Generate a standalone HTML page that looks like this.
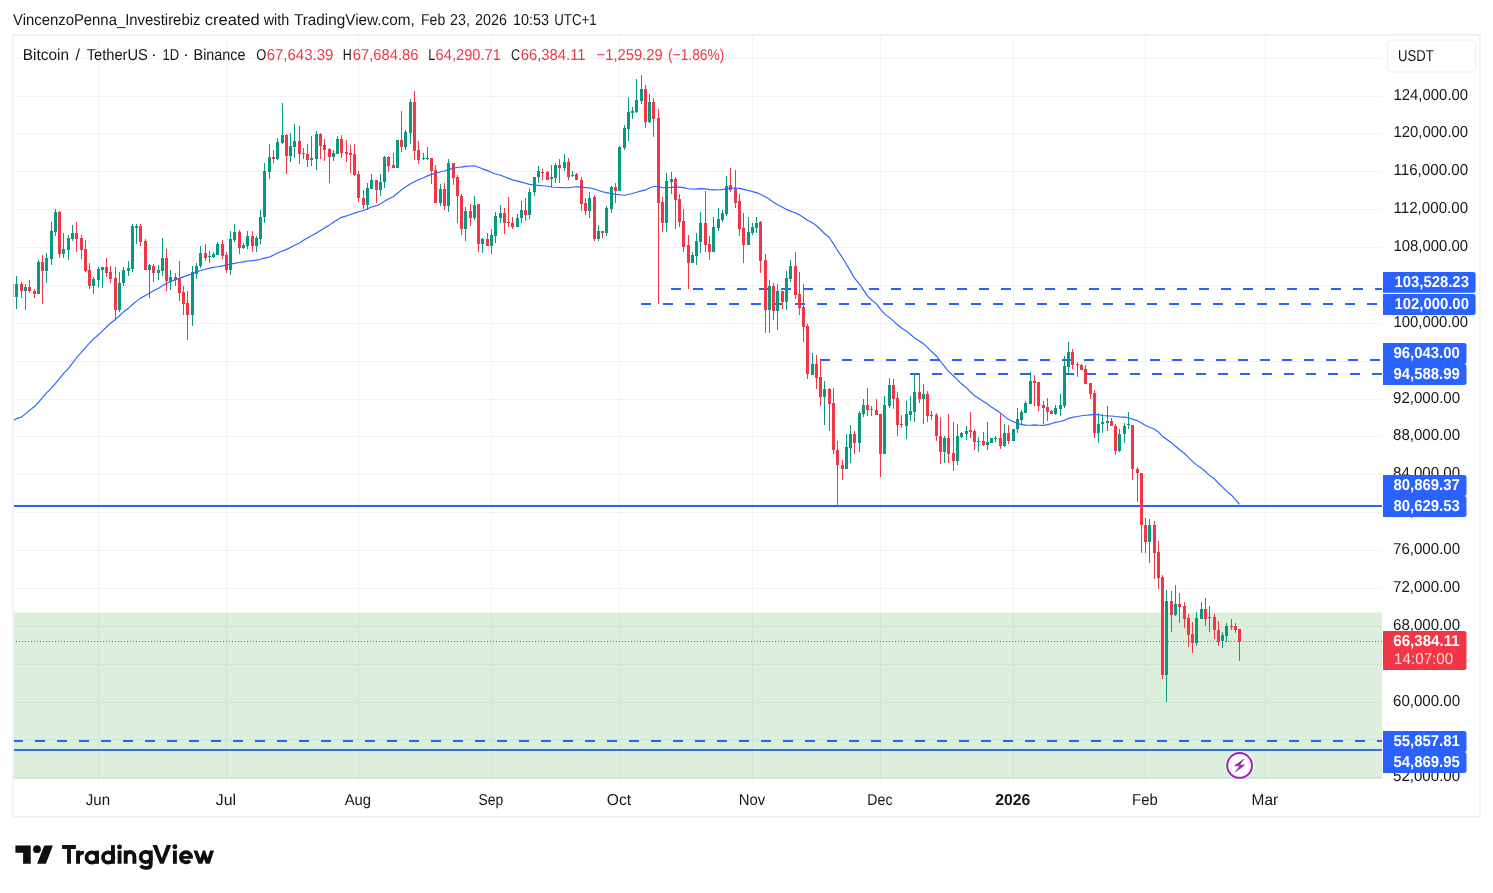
<!DOCTYPE html>
<html><head><meta charset="utf-8"><title>BTCUSDT chart</title>
<style>html,body{margin:0;padding:0;background:#fff}body{width:1493px;height:893px;overflow:hidden;position:relative;font-family:"Liberation Sans",sans-serif}</style>
</head><body>
<svg width="1493" height="893" viewBox="0 0 1493 893" style="position:absolute;left:0;top:0;will-change:transform;text-rendering:geometricPrecision;font-family:'Liberation Sans',sans-serif">
<rect width="1493" height="893" fill="#fff"/>
<rect x="13" y="35" width="1467" height="782" fill="none" stroke="#f2f2f2" stroke-width="2"/>
<g shape-rendering="crispEdges" fill="#f2f2f3">
<rect x="14" y="96" width="1368" height="1"/>
<rect x="14" y="133" width="1368" height="1"/>
<rect x="14" y="171" width="1368" height="1"/>
<rect x="14" y="209" width="1368" height="1"/>
<rect x="14" y="247" width="1368" height="1"/>
<rect x="14" y="285" width="1368" height="1"/>
<rect x="14" y="323" width="1368" height="1"/>
<rect x="14" y="361" width="1368" height="1"/>
<rect x="14" y="399" width="1368" height="1"/>
<rect x="14" y="436" width="1368" height="1"/>
<rect x="14" y="474" width="1368" height="1"/>
<rect x="14" y="512" width="1368" height="1"/>
<rect x="14" y="550" width="1368" height="1"/>
<rect x="14" y="588" width="1368" height="1"/>
<rect x="14" y="626" width="1368" height="1"/>
<rect x="14" y="664" width="1368" height="1"/>
<rect x="14" y="702" width="1368" height="1"/>
<rect x="14" y="739" width="1368" height="1"/>
<rect x="14" y="777" width="1368" height="1"/>
<rect x="14" y="58" width="1368" height="1"/>
<rect x="98" y="36" width="1" height="746"/>
<rect x="226" y="36" width="1" height="746"/>
<rect x="358" y="36" width="1" height="746"/>
<rect x="491" y="36" width="1" height="746"/>
<rect x="619" y="36" width="1" height="746"/>
<rect x="752" y="36" width="1" height="746"/>
<rect x="880" y="36" width="1" height="746"/>
<rect x="1013" y="36" width="1" height="746"/>
<rect x="1145" y="36" width="1" height="746"/>
<rect x="1265" y="36" width="1" height="746"/>
</g>
<rect x="14" y="749" width="1368" height="2" fill="#2962ff" shape-rendering="crispEdges"/>
<rect x="14" y="612.5" width="1368" height="166.5" fill="rgb(76,175,80)" fill-opacity="0.2"/>
<line x1="671" y1="289" x2="1382" y2="289" stroke="#2962ff" stroke-width="2" stroke-dasharray="10 12"/>
<line x1="641" y1="304" x2="1382" y2="304" stroke="#2962ff" stroke-width="2" stroke-dasharray="10 12"/>
<line x1="820" y1="360" x2="1382" y2="360" stroke="#2962ff" stroke-width="2" stroke-dasharray="10 12"/>
<line x1="910" y1="374" x2="1382" y2="374" stroke="#2962ff" stroke-width="2" stroke-dasharray="10 12"/>
<rect x="14" y="505" width="1368" height="2" fill="#2962ff" shape-rendering="crispEdges"/>
<line x1="14" y1="741" x2="1382" y2="741" stroke="#2962ff" stroke-width="2" stroke-dasharray="10 12" stroke-dashoffset="1"/>
<g shape-rendering="crispEdges">
<rect x="12" y="284" width="1" height="13" fill="#f23645"/><rect x="11" y="284" width="3" height="13" fill="#f23645"/>
<rect x="16" y="276" width="1" height="33" fill="#089981"/><rect x="15" y="284" width="3" height="13" fill="#089981"/>
<rect x="21" y="282" width="1" height="16" fill="#f23645"/><rect x="20" y="284" width="3" height="7" fill="#f23645"/>
<rect x="25" y="284" width="1" height="26" fill="#089981"/><rect x="24" y="287" width="3" height="4" fill="#089981"/>
<rect x="29" y="280" width="1" height="13" fill="#f23645"/><rect x="28" y="287" width="3" height="4" fill="#f23645"/>
<rect x="34" y="289" width="1" height="9" fill="#f23645"/><rect x="33" y="291" width="3" height="3" fill="#f23645"/>
<rect x="38" y="260" width="1" height="34" fill="#089981"/><rect x="37" y="262" width="3" height="32" fill="#089981"/>
<rect x="42" y="255" width="1" height="49" fill="#f23645"/><rect x="41" y="262" width="3" height="9" fill="#f23645"/>
<rect x="46" y="253" width="1" height="30" fill="#089981"/><rect x="45" y="258" width="3" height="13" fill="#089981"/>
<rect x="51" y="222" width="1" height="43" fill="#089981"/><rect x="50" y="231" width="3" height="28" fill="#089981"/>
<rect x="55" y="209" width="1" height="27" fill="#089981"/><rect x="54" y="212" width="3" height="20" fill="#089981"/>
<rect x="59" y="211" width="1" height="47" fill="#f23645"/><rect x="58" y="212" width="3" height="42" fill="#f23645"/>
<rect x="63" y="233" width="1" height="25" fill="#089981"/><rect x="62" y="249" width="3" height="5" fill="#089981"/>
<rect x="68" y="235" width="1" height="25" fill="#089981"/><rect x="67" y="238" width="3" height="12" fill="#089981"/>
<rect x="72" y="225" width="1" height="16" fill="#089981"/><rect x="71" y="233" width="3" height="6" fill="#089981"/>
<rect x="76" y="222" width="1" height="30" fill="#f23645"/><rect x="75" y="233" width="3" height="6" fill="#f23645"/>
<rect x="81" y="235" width="1" height="24" fill="#f23645"/><rect x="80" y="238" width="3" height="12" fill="#f23645"/>
<rect x="85" y="240" width="1" height="32" fill="#f23645"/><rect x="84" y="249" width="3" height="22" fill="#f23645"/>
<rect x="89" y="263" width="1" height="26" fill="#f23645"/><rect x="88" y="270" width="3" height="16" fill="#f23645"/>
<rect x="93" y="277" width="1" height="17" fill="#089981"/><rect x="92" y="279" width="3" height="7" fill="#089981"/>
<rect x="98" y="267" width="1" height="20" fill="#089981"/><rect x="97" y="269" width="3" height="11" fill="#089981"/>
<rect x="102" y="267" width="1" height="21" fill="#089981"/><rect x="101" y="267" width="3" height="3" fill="#089981"/>
<rect x="106" y="258" width="1" height="19" fill="#f23645"/><rect x="105" y="267" width="3" height="6" fill="#f23645"/>
<rect x="110" y="266" width="1" height="17" fill="#f23645"/><rect x="109" y="272" width="3" height="7" fill="#f23645"/>
<rect x="115" y="267" width="1" height="52" fill="#f23645"/><rect x="114" y="278" width="3" height="32" fill="#f23645"/>
<rect x="119" y="272" width="1" height="40" fill="#089981"/><rect x="118" y="283" width="3" height="27" fill="#089981"/>
<rect x="123" y="267" width="1" height="19" fill="#089981"/><rect x="122" y="270" width="3" height="13" fill="#089981"/>
<rect x="128" y="261" width="1" height="15" fill="#089981"/><rect x="127" y="268" width="3" height="3" fill="#089981"/>
<rect x="132" y="224" width="1" height="48" fill="#089981"/><rect x="131" y="226" width="3" height="43" fill="#089981"/>
<rect x="136" y="224" width="1" height="20" fill="#089981"/><rect x="135" y="226" width="3" height="2" fill="#089981"/>
<rect x="140" y="224" width="1" height="22" fill="#f23645"/><rect x="139" y="226" width="3" height="16" fill="#f23645"/>
<rect x="145" y="239" width="1" height="31" fill="#f23645"/><rect x="144" y="241" width="3" height="29" fill="#f23645"/>
<rect x="149" y="264" width="1" height="34" fill="#089981"/><rect x="148" y="265" width="3" height="5" fill="#089981"/>
<rect x="153" y="264" width="1" height="18" fill="#f23645"/><rect x="152" y="266" width="3" height="7" fill="#f23645"/>
<rect x="158" y="265" width="1" height="15" fill="#089981"/><rect x="157" y="270" width="3" height="3" fill="#089981"/>
<rect x="162" y="238" width="1" height="38" fill="#089981"/><rect x="161" y="258" width="3" height="13" fill="#089981"/>
<rect x="166" y="249" width="1" height="42" fill="#f23645"/><rect x="165" y="258" width="3" height="23" fill="#f23645"/>
<rect x="170" y="270" width="1" height="20" fill="#089981"/><rect x="169" y="277" width="3" height="4" fill="#089981"/>
<rect x="175" y="273" width="1" height="13" fill="#f23645"/><rect x="174" y="277" width="3" height="3" fill="#f23645"/>
<rect x="179" y="261" width="1" height="40" fill="#f23645"/><rect x="178" y="279" width="3" height="14" fill="#f23645"/>
<rect x="183" y="286" width="1" height="29" fill="#f23645"/><rect x="182" y="292" width="3" height="12" fill="#f23645"/>
<rect x="187" y="291" width="1" height="49" fill="#f23645"/><rect x="186" y="303" width="3" height="12" fill="#f23645"/>
<rect x="192" y="266" width="1" height="60" fill="#089981"/><rect x="191" y="272" width="3" height="43" fill="#089981"/>
<rect x="196" y="263" width="1" height="16" fill="#089981"/><rect x="195" y="266" width="3" height="8" fill="#089981"/>
<rect x="200" y="246" width="1" height="22" fill="#089981"/><rect x="199" y="253" width="3" height="13" fill="#089981"/>
<rect x="205" y="244" width="1" height="17" fill="#f23645"/><rect x="204" y="253" width="3" height="5" fill="#f23645"/>
<rect x="209" y="251" width="1" height="12" fill="#089981"/><rect x="208" y="256" width="3" height="1" fill="#089981"/>
<rect x="213" y="252" width="1" height="6" fill="#089981"/><rect x="212" y="254" width="3" height="3" fill="#089981"/>
<rect x="217" y="242" width="1" height="13" fill="#089981"/><rect x="216" y="244" width="3" height="11" fill="#089981"/>
<rect x="222" y="240" width="1" height="19" fill="#f23645"/><rect x="221" y="244" width="3" height="12" fill="#f23645"/>
<rect x="226" y="252" width="1" height="21" fill="#f23645"/><rect x="225" y="255" width="3" height="15" fill="#f23645"/>
<rect x="230" y="231" width="1" height="44" fill="#089981"/><rect x="229" y="239" width="3" height="31" fill="#089981"/>
<rect x="234" y="224" width="1" height="18" fill="#089981"/><rect x="233" y="232" width="3" height="8" fill="#089981"/>
<rect x="239" y="230" width="1" height="24" fill="#f23645"/><rect x="238" y="232" width="3" height="16" fill="#f23645"/>
<rect x="243" y="243" width="1" height="6" fill="#089981"/><rect x="242" y="245" width="3" height="3" fill="#089981"/>
<rect x="247" y="231" width="1" height="18" fill="#089981"/><rect x="246" y="236" width="3" height="10" fill="#089981"/>
<rect x="252" y="231" width="1" height="21" fill="#f23645"/><rect x="251" y="236" width="3" height="10" fill="#f23645"/>
<rect x="256" y="236" width="1" height="16" fill="#089981"/><rect x="255" y="238" width="3" height="8" fill="#089981"/>
<rect x="260" y="210" width="1" height="34" fill="#089981"/><rect x="259" y="217" width="3" height="22" fill="#089981"/>
<rect x="264" y="163" width="1" height="60" fill="#089981"/><rect x="263" y="171" width="3" height="46" fill="#089981"/>
<rect x="269" y="144" width="1" height="35" fill="#089981"/><rect x="268" y="157" width="3" height="15" fill="#089981"/>
<rect x="273" y="150" width="1" height="13" fill="#f23645"/><rect x="272" y="157" width="3" height="2" fill="#f23645"/>
<rect x="277" y="138" width="1" height="22" fill="#089981"/><rect x="276" y="142" width="3" height="17" fill="#089981"/>
<rect x="282" y="103" width="1" height="41" fill="#089981"/><rect x="281" y="135" width="3" height="8" fill="#089981"/>
<rect x="286" y="134" width="1" height="40" fill="#f23645"/><rect x="285" y="135" width="3" height="21" fill="#f23645"/>
<rect x="290" y="133" width="1" height="29" fill="#089981"/><rect x="289" y="146" width="3" height="10" fill="#089981"/>
<rect x="294" y="124" width="1" height="34" fill="#089981"/><rect x="293" y="141" width="3" height="6" fill="#089981"/>
<rect x="299" y="126" width="1" height="38" fill="#f23645"/><rect x="298" y="141" width="3" height="13" fill="#f23645"/>
<rect x="303" y="148" width="1" height="11" fill="#f23645"/><rect x="302" y="153" width="3" height="1" fill="#f23645"/>
<rect x="307" y="144" width="1" height="23" fill="#f23645"/><rect x="306" y="154" width="3" height="6" fill="#f23645"/>
<rect x="311" y="136" width="1" height="30" fill="#089981"/><rect x="310" y="158" width="3" height="2" fill="#089981"/>
<rect x="316" y="131" width="1" height="39" fill="#089981"/><rect x="315" y="134" width="3" height="25" fill="#089981"/>
<rect x="320" y="133" width="1" height="26" fill="#f23645"/><rect x="319" y="134" width="3" height="12" fill="#f23645"/>
<rect x="324" y="139" width="1" height="22" fill="#f23645"/><rect x="323" y="145" width="3" height="5" fill="#f23645"/>
<rect x="329" y="148" width="1" height="35" fill="#f23645"/><rect x="328" y="149" width="3" height="8" fill="#f23645"/>
<rect x="333" y="150" width="1" height="11" fill="#089981"/><rect x="332" y="153" width="3" height="4" fill="#089981"/>
<rect x="337" y="136" width="1" height="18" fill="#089981"/><rect x="336" y="139" width="3" height="15" fill="#089981"/>
<rect x="341" y="135" width="1" height="23" fill="#f23645"/><rect x="340" y="139" width="3" height="14" fill="#f23645"/>
<rect x="346" y="140" width="1" height="22" fill="#f23645"/><rect x="345" y="152" width="3" height="2" fill="#f23645"/>
<rect x="350" y="145" width="1" height="28" fill="#f23645"/><rect x="349" y="153" width="3" height="2" fill="#f23645"/>
<rect x="354" y="144" width="1" height="32" fill="#f23645"/><rect x="353" y="154" width="3" height="21" fill="#f23645"/>
<rect x="358" y="171" width="1" height="31" fill="#f23645"/><rect x="357" y="174" width="3" height="24" fill="#f23645"/>
<rect x="363" y="190" width="1" height="19" fill="#f23645"/><rect x="362" y="198" width="3" height="7" fill="#f23645"/>
<rect x="367" y="183" width="1" height="27" fill="#089981"/><rect x="366" y="188" width="3" height="17" fill="#089981"/>
<rect x="371" y="174" width="1" height="15" fill="#089981"/><rect x="370" y="180" width="3" height="9" fill="#089981"/>
<rect x="376" y="180" width="1" height="23" fill="#f23645"/><rect x="375" y="180" width="3" height="10" fill="#f23645"/>
<rect x="380" y="174" width="1" height="22" fill="#089981"/><rect x="379" y="182" width="3" height="8" fill="#089981"/>
<rect x="384" y="156" width="1" height="32" fill="#089981"/><rect x="383" y="157" width="3" height="25" fill="#089981"/>
<rect x="388" y="156" width="1" height="16" fill="#f23645"/><rect x="387" y="157" width="3" height="9" fill="#f23645"/>
<rect x="393" y="153" width="1" height="15" fill="#f23645"/><rect x="392" y="165" width="3" height="3" fill="#f23645"/>
<rect x="397" y="140" width="1" height="28" fill="#089981"/><rect x="396" y="140" width="3" height="28" fill="#089981"/>
<rect x="401" y="111" width="1" height="41" fill="#f23645"/><rect x="400" y="140" width="3" height="7" fill="#f23645"/>
<rect x="405" y="130" width="1" height="20" fill="#089981"/><rect x="404" y="132" width="3" height="15" fill="#089981"/>
<rect x="410" y="99" width="1" height="45" fill="#089981"/><rect x="409" y="102" width="3" height="31" fill="#089981"/>
<rect x="414" y="91" width="1" height="69" fill="#f23645"/><rect x="413" y="102" width="3" height="49" fill="#f23645"/>
<rect x="418" y="141" width="1" height="23" fill="#f23645"/><rect x="417" y="150" width="3" height="10" fill="#f23645"/>
<rect x="423" y="153" width="1" height="7" fill="#089981"/><rect x="422" y="158" width="3" height="1" fill="#089981"/>
<rect x="427" y="147" width="1" height="13" fill="#089981"/><rect x="426" y="158" width="3" height="1" fill="#089981"/>
<rect x="431" y="158" width="1" height="26" fill="#f23645"/><rect x="430" y="158" width="3" height="13" fill="#f23645"/>
<rect x="435" y="165" width="1" height="38" fill="#f23645"/><rect x="434" y="170" width="3" height="33" fill="#f23645"/>
<rect x="440" y="184" width="1" height="22" fill="#089981"/><rect x="439" y="189" width="3" height="14" fill="#089981"/>
<rect x="444" y="183" width="1" height="27" fill="#f23645"/><rect x="443" y="189" width="3" height="17" fill="#f23645"/>
<rect x="448" y="159" width="1" height="53" fill="#089981"/><rect x="447" y="163" width="3" height="43" fill="#089981"/>
<rect x="453" y="163" width="1" height="22" fill="#f23645"/><rect x="452" y="163" width="3" height="15" fill="#f23645"/>
<rect x="457" y="175" width="1" height="48" fill="#f23645"/><rect x="456" y="177" width="3" height="19" fill="#f23645"/>
<rect x="461" y="194" width="1" height="41" fill="#f23645"/><rect x="460" y="196" width="3" height="33" fill="#f23645"/>
<rect x="465" y="207" width="1" height="34" fill="#089981"/><rect x="464" y="211" width="3" height="18" fill="#089981"/>
<rect x="470" y="204" width="1" height="22" fill="#f23645"/><rect x="469" y="211" width="3" height="7" fill="#f23645"/>
<rect x="474" y="196" width="1" height="24" fill="#089981"/><rect x="473" y="205" width="3" height="13" fill="#089981"/>
<rect x="478" y="204" width="1" height="48" fill="#f23645"/><rect x="477" y="204" width="3" height="40" fill="#f23645"/>
<rect x="482" y="238" width="1" height="15" fill="#089981"/><rect x="481" y="239" width="3" height="5" fill="#089981"/>
<rect x="487" y="233" width="1" height="13" fill="#f23645"/><rect x="486" y="239" width="3" height="7" fill="#f23645"/>
<rect x="491" y="229" width="1" height="25" fill="#089981"/><rect x="490" y="235" width="3" height="11" fill="#089981"/>
<rect x="495" y="212" width="1" height="31" fill="#089981"/><rect x="494" y="216" width="3" height="20" fill="#089981"/>
<rect x="500" y="205" width="1" height="18" fill="#089981"/><rect x="499" y="213" width="3" height="5" fill="#089981"/>
<rect x="504" y="208" width="1" height="26" fill="#f23645"/><rect x="503" y="213" width="3" height="10" fill="#f23645"/>
<rect x="508" y="197" width="1" height="30" fill="#f23645"/><rect x="507" y="222" width="3" height="1" fill="#f23645"/>
<rect x="512" y="217" width="1" height="12" fill="#f23645"/><rect x="511" y="223" width="3" height="4" fill="#f23645"/>
<rect x="517" y="214" width="1" height="13" fill="#089981"/><rect x="516" y="218" width="3" height="9" fill="#089981"/>
<rect x="521" y="201" width="1" height="22" fill="#089981"/><rect x="520" y="210" width="3" height="8" fill="#089981"/>
<rect x="525" y="198" width="1" height="23" fill="#f23645"/><rect x="524" y="210" width="3" height="5" fill="#f23645"/>
<rect x="529" y="188" width="1" height="31" fill="#089981"/><rect x="528" y="192" width="3" height="23" fill="#089981"/>
<rect x="534" y="177" width="1" height="19" fill="#089981"/><rect x="533" y="177" width="3" height="15" fill="#089981"/>
<rect x="538" y="166" width="1" height="17" fill="#089981"/><rect x="537" y="171" width="3" height="6" fill="#089981"/>
<rect x="542" y="169" width="1" height="11" fill="#f23645"/><rect x="541" y="172" width="3" height="1" fill="#f23645"/>
<rect x="547" y="171" width="1" height="9" fill="#f23645"/><rect x="546" y="172" width="3" height="8" fill="#f23645"/>
<rect x="551" y="165" width="1" height="22" fill="#089981"/><rect x="550" y="177" width="3" height="2" fill="#089981"/>
<rect x="555" y="163" width="1" height="20" fill="#089981"/><rect x="554" y="165" width="3" height="13" fill="#089981"/>
<rect x="559" y="159" width="1" height="24" fill="#f23645"/><rect x="558" y="165" width="3" height="3" fill="#f23645"/>
<rect x="564" y="154" width="1" height="17" fill="#089981"/><rect x="563" y="162" width="3" height="6" fill="#089981"/>
<rect x="568" y="158" width="1" height="22" fill="#f23645"/><rect x="567" y="162" width="3" height="15" fill="#f23645"/>
<rect x="572" y="171" width="1" height="6" fill="#089981"/><rect x="571" y="175" width="3" height="1" fill="#089981"/>
<rect x="576" y="173" width="1" height="7" fill="#f23645"/><rect x="575" y="174" width="3" height="6" fill="#f23645"/>
<rect x="581" y="177" width="1" height="34" fill="#f23645"/><rect x="580" y="180" width="3" height="24" fill="#f23645"/>
<rect x="585" y="198" width="1" height="17" fill="#f23645"/><rect x="584" y="203" width="3" height="8" fill="#f23645"/>
<rect x="589" y="192" width="1" height="26" fill="#089981"/><rect x="588" y="198" width="3" height="13" fill="#089981"/>
<rect x="594" y="195" width="1" height="46" fill="#f23645"/><rect x="593" y="197" width="3" height="42" fill="#f23645"/>
<rect x="598" y="225" width="1" height="16" fill="#089981"/><rect x="597" y="231" width="3" height="8" fill="#089981"/>
<rect x="602" y="231" width="1" height="7" fill="#f23645"/><rect x="601" y="231" width="3" height="2" fill="#f23645"/>
<rect x="606" y="206" width="1" height="30" fill="#089981"/><rect x="605" y="208" width="3" height="25" fill="#089981"/>
<rect x="611" y="186" width="1" height="27" fill="#089981"/><rect x="610" y="187" width="3" height="22" fill="#089981"/>
<rect x="615" y="183" width="1" height="20" fill="#f23645"/><rect x="614" y="187" width="3" height="4" fill="#f23645"/>
<rect x="619" y="146" width="1" height="45" fill="#089981"/><rect x="618" y="147" width="3" height="44" fill="#089981"/>
<rect x="624" y="125" width="1" height="25" fill="#089981"/><rect x="623" y="128" width="3" height="20" fill="#089981"/>
<rect x="628" y="97" width="1" height="44" fill="#089981"/><rect x="627" y="112" width="3" height="17" fill="#089981"/>
<rect x="632" y="107" width="1" height="12" fill="#089981"/><rect x="631" y="111" width="3" height="2" fill="#089981"/>
<rect x="636" y="79" width="1" height="34" fill="#089981"/><rect x="635" y="100" width="3" height="12" fill="#089981"/>
<rect x="641" y="75" width="1" height="29" fill="#089981"/><rect x="640" y="89" width="3" height="12" fill="#089981"/>
<rect x="645" y="85" width="1" height="43" fill="#f23645"/><rect x="644" y="89" width="3" height="33" fill="#f23645"/>
<rect x="649" y="94" width="1" height="29" fill="#089981"/><rect x="648" y="102" width="3" height="20" fill="#089981"/>
<rect x="653" y="98" width="1" height="39" fill="#f23645"/><rect x="652" y="102" width="3" height="17" fill="#f23645"/>
<rect x="658" y="109" width="1" height="195" fill="#f23645"/><rect x="657" y="118" width="3" height="85" fill="#f23645"/>
<rect x="662" y="197" width="1" height="35" fill="#f23645"/><rect x="661" y="202" width="3" height="21" fill="#f23645"/>
<rect x="666" y="173" width="1" height="59" fill="#089981"/><rect x="665" y="181" width="3" height="42" fill="#089981"/>
<rect x="671" y="172" width="1" height="22" fill="#089981"/><rect x="670" y="179" width="3" height="3" fill="#089981"/>
<rect x="675" y="177" width="1" height="52" fill="#f23645"/><rect x="674" y="179" width="3" height="21" fill="#f23645"/>
<rect x="679" y="194" width="1" height="33" fill="#f23645"/><rect x="678" y="199" width="3" height="23" fill="#f23645"/>
<rect x="683" y="209" width="1" height="43" fill="#f23645"/><rect x="682" y="221" width="3" height="26" fill="#f23645"/>
<rect x="688" y="235" width="1" height="54" fill="#f23645"/><rect x="687" y="245" width="3" height="18" fill="#f23645"/>
<rect x="692" y="252" width="1" height="11" fill="#089981"/><rect x="691" y="255" width="3" height="8" fill="#089981"/>
<rect x="696" y="233" width="1" height="32" fill="#089981"/><rect x="695" y="241" width="3" height="15" fill="#089981"/>
<rect x="700" y="212" width="1" height="41" fill="#089981"/><rect x="699" y="223" width="3" height="19" fill="#089981"/>
<rect x="705" y="191" width="1" height="61" fill="#f23645"/><rect x="704" y="223" width="3" height="22" fill="#f23645"/>
<rect x="709" y="236" width="1" height="24" fill="#f23645"/><rect x="708" y="244" width="3" height="8" fill="#f23645"/>
<rect x="713" y="217" width="1" height="35" fill="#089981"/><rect x="712" y="227" width="3" height="25" fill="#089981"/>
<rect x="718" y="208" width="1" height="23" fill="#089981"/><rect x="717" y="219" width="3" height="9" fill="#089981"/>
<rect x="722" y="210" width="1" height="12" fill="#089981"/><rect x="721" y="213" width="3" height="7" fill="#089981"/>
<rect x="726" y="176" width="1" height="40" fill="#089981"/><rect x="725" y="186" width="3" height="28" fill="#089981"/>
<rect x="730" y="168" width="1" height="24" fill="#f23645"/><rect x="729" y="185" width="3" height="5" fill="#f23645"/>
<rect x="735" y="170" width="1" height="38" fill="#f23645"/><rect x="734" y="189" width="3" height="14" fill="#f23645"/>
<rect x="739" y="194" width="1" height="42" fill="#f23645"/><rect x="738" y="201" width="3" height="28" fill="#f23645"/>
<rect x="743" y="213" width="1" height="50" fill="#f23645"/><rect x="742" y="228" width="3" height="17" fill="#f23645"/>
<rect x="748" y="217" width="1" height="28" fill="#089981"/><rect x="747" y="232" width="3" height="13" fill="#089981"/>
<rect x="752" y="223" width="1" height="12" fill="#089981"/><rect x="751" y="227" width="3" height="6" fill="#089981"/>
<rect x="756" y="217" width="1" height="16" fill="#089981"/><rect x="755" y="223" width="3" height="5" fill="#089981"/>
<rect x="760" y="221" width="1" height="52" fill="#f23645"/><rect x="759" y="222" width="3" height="39" fill="#f23645"/>
<rect x="765" y="254" width="1" height="79" fill="#f23645"/><rect x="764" y="260" width="3" height="50" fill="#f23645"/>
<rect x="769" y="280" width="1" height="53" fill="#089981"/><rect x="768" y="286" width="3" height="24" fill="#089981"/>
<rect x="773" y="283" width="1" height="37" fill="#f23645"/><rect x="772" y="286" width="3" height="25" fill="#f23645"/>
<rect x="777" y="284" width="1" height="46" fill="#089981"/><rect x="776" y="291" width="3" height="20" fill="#089981"/>
<rect x="782" y="291" width="1" height="18" fill="#f23645"/><rect x="781" y="291" width="3" height="11" fill="#f23645"/>
<rect x="786" y="271" width="1" height="39" fill="#089981"/><rect x="785" y="278" width="3" height="24" fill="#089981"/>
<rect x="790" y="260" width="1" height="22" fill="#089981"/><rect x="789" y="266" width="3" height="13" fill="#089981"/>
<rect x="795" y="252" width="1" height="47" fill="#f23645"/><rect x="794" y="266" width="3" height="29" fill="#f23645"/>
<rect x="799" y="272" width="1" height="43" fill="#f23645"/><rect x="798" y="294" width="3" height="14" fill="#f23645"/>
<rect x="803" y="284" width="1" height="58" fill="#f23645"/><rect x="802" y="307" width="3" height="20" fill="#f23645"/>
<rect x="807" y="324" width="1" height="55" fill="#f23645"/><rect x="806" y="326" width="3" height="48" fill="#f23645"/>
<rect x="812" y="353" width="1" height="22" fill="#089981"/><rect x="811" y="364" width="3" height="11" fill="#089981"/>
<rect x="816" y="355" width="1" height="34" fill="#f23645"/><rect x="815" y="364" width="3" height="14" fill="#f23645"/>
<rect x="820" y="360" width="1" height="46" fill="#f23645"/><rect x="819" y="377" width="3" height="20" fill="#f23645"/>
<rect x="824" y="381" width="1" height="44" fill="#089981"/><rect x="823" y="389" width="3" height="8" fill="#089981"/>
<rect x="829" y="388" width="1" height="43" fill="#f23645"/><rect x="828" y="389" width="3" height="15" fill="#f23645"/>
<rect x="833" y="388" width="1" height="66" fill="#f23645"/><rect x="832" y="403" width="3" height="47" fill="#f23645"/>
<rect x="837" y="441" width="1" height="65" fill="#f23645"/><rect x="836" y="450" width="3" height="15" fill="#f23645"/>
<rect x="842" y="460" width="1" height="20" fill="#f23645"/><rect x="841" y="465" width="3" height="4" fill="#f23645"/>
<rect x="846" y="434" width="1" height="35" fill="#089981"/><rect x="845" y="447" width="3" height="22" fill="#089981"/>
<rect x="850" y="425" width="1" height="38" fill="#089981"/><rect x="849" y="434" width="3" height="14" fill="#089981"/>
<rect x="854" y="431" width="1" height="23" fill="#f23645"/><rect x="853" y="434" width="3" height="9" fill="#f23645"/>
<rect x="859" y="411" width="1" height="41" fill="#089981"/><rect x="858" y="413" width="3" height="30" fill="#089981"/>
<rect x="863" y="399" width="1" height="18" fill="#089981"/><rect x="862" y="405" width="3" height="9" fill="#089981"/>
<rect x="867" y="388" width="1" height="28" fill="#f23645"/><rect x="866" y="405" width="3" height="5" fill="#f23645"/>
<rect x="871" y="406" width="1" height="10" fill="#f23645"/><rect x="870" y="409" width="3" height="1" fill="#f23645"/>
<rect x="876" y="399" width="1" height="16" fill="#f23645"/><rect x="875" y="410" width="3" height="5" fill="#f23645"/>
<rect x="880" y="414" width="1" height="63" fill="#f23645"/><rect x="879" y="414" width="3" height="40" fill="#f23645"/>
<rect x="884" y="396" width="1" height="58" fill="#089981"/><rect x="883" y="405" width="3" height="49" fill="#089981"/>
<rect x="889" y="378" width="1" height="30" fill="#089981"/><rect x="888" y="385" width="3" height="21" fill="#089981"/>
<rect x="893" y="379" width="1" height="30" fill="#f23645"/><rect x="892" y="385" width="3" height="14" fill="#f23645"/>
<rect x="897" y="392" width="1" height="44" fill="#f23645"/><rect x="896" y="398" width="3" height="27" fill="#f23645"/>
<rect x="901" y="415" width="1" height="13" fill="#f23645"/><rect x="900" y="424" width="3" height="1" fill="#f23645"/>
<rect x="906" y="401" width="1" height="38" fill="#089981"/><rect x="905" y="414" width="3" height="12" fill="#089981"/>
<rect x="910" y="396" width="1" height="25" fill="#089981"/><rect x="909" y="411" width="3" height="4" fill="#089981"/>
<rect x="914" y="374" width="1" height="48" fill="#089981"/><rect x="913" y="392" width="3" height="20" fill="#089981"/>
<rect x="919" y="375" width="1" height="28" fill="#f23645"/><rect x="918" y="392" width="3" height="7" fill="#f23645"/>
<rect x="923" y="384" width="1" height="40" fill="#089981"/><rect x="922" y="394" width="3" height="5" fill="#089981"/>
<rect x="927" y="391" width="1" height="31" fill="#f23645"/><rect x="926" y="394" width="3" height="22" fill="#f23645"/>
<rect x="931" y="411" width="1" height="9" fill="#f23645"/><rect x="930" y="415" width="3" height="1" fill="#f23645"/>
<rect x="936" y="413" width="1" height="28" fill="#f23645"/><rect x="935" y="415" width="3" height="21" fill="#f23645"/>
<rect x="940" y="417" width="1" height="47" fill="#f23645"/><rect x="939" y="436" width="3" height="16" fill="#f23645"/>
<rect x="944" y="436" width="1" height="27" fill="#089981"/><rect x="943" y="438" width="3" height="14" fill="#089981"/>
<rect x="948" y="414" width="1" height="49" fill="#f23645"/><rect x="947" y="438" width="3" height="16" fill="#f23645"/>
<rect x="953" y="422" width="1" height="49" fill="#f23645"/><rect x="952" y="453" width="3" height="8" fill="#f23645"/>
<rect x="957" y="424" width="1" height="41" fill="#089981"/><rect x="956" y="436" width="3" height="25" fill="#089981"/>
<rect x="961" y="432" width="1" height="6" fill="#089981"/><rect x="960" y="433" width="3" height="4" fill="#089981"/>
<rect x="966" y="426" width="1" height="14" fill="#089981"/><rect x="965" y="431" width="3" height="3" fill="#089981"/>
<rect x="970" y="412" width="1" height="26" fill="#f23645"/><rect x="969" y="430" width="3" height="2" fill="#f23645"/>
<rect x="974" y="429" width="1" height="21" fill="#f23645"/><rect x="973" y="431" width="3" height="11" fill="#f23645"/>
<rect x="978" y="437" width="1" height="15" fill="#089981"/><rect x="977" y="441" width="3" height="1" fill="#089981"/>
<rect x="983" y="432" width="1" height="14" fill="#f23645"/><rect x="982" y="441" width="3" height="4" fill="#f23645"/>
<rect x="987" y="422" width="1" height="28" fill="#089981"/><rect x="986" y="442" width="3" height="3" fill="#089981"/>
<rect x="991" y="438" width="1" height="5" fill="#089981"/><rect x="990" y="438" width="3" height="5" fill="#089981"/>
<rect x="995" y="436" width="1" height="6" fill="#089981"/><rect x="994" y="438" width="3" height="1" fill="#089981"/>
<rect x="1000" y="414" width="1" height="35" fill="#f23645"/><rect x="999" y="438" width="3" height="8" fill="#f23645"/>
<rect x="1004" y="424" width="1" height="23" fill="#089981"/><rect x="1003" y="433" width="3" height="13" fill="#089981"/>
<rect x="1008" y="425" width="1" height="19" fill="#f23645"/><rect x="1007" y="433" width="3" height="8" fill="#f23645"/>
<rect x="1013" y="429" width="1" height="12" fill="#089981"/><rect x="1012" y="429" width="3" height="12" fill="#089981"/>
<rect x="1017" y="408" width="1" height="25" fill="#089981"/><rect x="1016" y="419" width="3" height="10" fill="#089981"/>
<rect x="1021" y="410" width="1" height="14" fill="#089981"/><rect x="1020" y="412" width="3" height="8" fill="#089981"/>
<rect x="1025" y="401" width="1" height="12" fill="#089981"/><rect x="1024" y="403" width="3" height="10" fill="#089981"/>
<rect x="1030" y="372" width="1" height="32" fill="#089981"/><rect x="1029" y="381" width="3" height="23" fill="#089981"/>
<rect x="1034" y="375" width="1" height="31" fill="#f23645"/><rect x="1033" y="381" width="3" height="2" fill="#f23645"/>
<rect x="1038" y="382" width="1" height="29" fill="#f23645"/><rect x="1037" y="382" width="3" height="24" fill="#f23645"/>
<rect x="1043" y="401" width="1" height="23" fill="#f23645"/><rect x="1042" y="405" width="3" height="3" fill="#f23645"/>
<rect x="1047" y="398" width="1" height="23" fill="#f23645"/><rect x="1046" y="407" width="3" height="5" fill="#f23645"/>
<rect x="1051" y="410" width="1" height="4" fill="#f23645"/><rect x="1050" y="411" width="3" height="3" fill="#f23645"/>
<rect x="1055" y="405" width="1" height="10" fill="#089981"/><rect x="1054" y="408" width="3" height="6" fill="#089981"/>
<rect x="1060" y="394" width="1" height="22" fill="#089981"/><rect x="1059" y="405" width="3" height="4" fill="#089981"/>
<rect x="1064" y="356" width="1" height="52" fill="#089981"/><rect x="1063" y="366" width="3" height="40" fill="#089981"/>
<rect x="1068" y="342" width="1" height="32" fill="#089981"/><rect x="1067" y="352" width="3" height="15" fill="#089981"/>
<rect x="1072" y="349" width="1" height="20" fill="#f23645"/><rect x="1071" y="352" width="3" height="13" fill="#f23645"/>
<rect x="1077" y="362" width="1" height="15" fill="#f23645"/><rect x="1076" y="364" width="3" height="1" fill="#f23645"/>
<rect x="1081" y="364" width="1" height="6" fill="#f23645"/><rect x="1080" y="365" width="3" height="5" fill="#f23645"/>
<rect x="1085" y="365" width="1" height="19" fill="#f23645"/><rect x="1084" y="369" width="3" height="15" fill="#f23645"/>
<rect x="1090" y="383" width="1" height="16" fill="#f23645"/><rect x="1089" y="383" width="3" height="11" fill="#f23645"/>
<rect x="1094" y="390" width="1" height="48" fill="#f23645"/><rect x="1093" y="393" width="3" height="40" fill="#f23645"/>
<rect x="1098" y="413" width="1" height="30" fill="#089981"/><rect x="1097" y="424" width="3" height="9" fill="#089981"/>
<rect x="1102" y="414" width="1" height="19" fill="#089981"/><rect x="1101" y="422" width="3" height="2" fill="#089981"/>
<rect x="1107" y="406" width="1" height="25" fill="#089981"/><rect x="1106" y="421" width="3" height="2" fill="#089981"/>
<rect x="1111" y="418" width="1" height="8" fill="#f23645"/><rect x="1110" y="421" width="3" height="5" fill="#f23645"/>
<rect x="1115" y="424" width="1" height="31" fill="#f23645"/><rect x="1114" y="426" width="3" height="25" fill="#f23645"/>
<rect x="1119" y="429" width="1" height="23" fill="#089981"/><rect x="1118" y="434" width="3" height="17" fill="#089981"/>
<rect x="1124" y="423" width="1" height="20" fill="#089981"/><rect x="1123" y="426" width="3" height="8" fill="#089981"/>
<rect x="1128" y="412" width="1" height="17" fill="#089981"/><rect x="1127" y="424" width="3" height="1" fill="#089981"/>
<rect x="1132" y="425" width="1" height="55" fill="#f23645"/><rect x="1131" y="425" width="3" height="44" fill="#f23645"/>
<rect x="1137" y="467" width="1" height="35" fill="#f23645"/><rect x="1136" y="469" width="3" height="4" fill="#f23645"/>
<rect x="1141" y="473" width="1" height="80" fill="#f23645"/><rect x="1140" y="473" width="3" height="52" fill="#f23645"/>
<rect x="1145" y="518" width="1" height="35" fill="#f23645"/><rect x="1144" y="525" width="3" height="17" fill="#f23645"/>
<rect x="1149" y="519" width="1" height="44" fill="#089981"/><rect x="1148" y="525" width="3" height="17" fill="#089981"/>
<rect x="1154" y="521" width="1" height="58" fill="#f23645"/><rect x="1153" y="525" width="3" height="28" fill="#f23645"/>
<rect x="1158" y="541" width="1" height="48" fill="#f23645"/><rect x="1157" y="552" width="3" height="26" fill="#f23645"/>
<rect x="1162" y="575" width="1" height="104" fill="#f23645"/><rect x="1161" y="577" width="3" height="98" fill="#f23645"/>
<rect x="1166" y="590" width="1" height="112" fill="#089981"/><rect x="1165" y="601" width="3" height="74" fill="#089981"/>
<rect x="1171" y="591" width="1" height="41" fill="#f23645"/><rect x="1170" y="601" width="3" height="14" fill="#f23645"/>
<rect x="1175" y="585" width="1" height="31" fill="#089981"/><rect x="1174" y="604" width="3" height="11" fill="#089981"/>
<rect x="1179" y="593" width="1" height="30" fill="#f23645"/><rect x="1178" y="604" width="3" height="3" fill="#f23645"/>
<rect x="1184" y="602" width="1" height="26" fill="#f23645"/><rect x="1183" y="606" width="3" height="13" fill="#f23645"/>
<rect x="1188" y="614" width="1" height="33" fill="#f23645"/><rect x="1187" y="618" width="3" height="17" fill="#f23645"/>
<rect x="1192" y="622" width="1" height="31" fill="#f23645"/><rect x="1191" y="634" width="3" height="9" fill="#f23645"/>
<rect x="1196" y="612" width="1" height="34" fill="#089981"/><rect x="1195" y="618" width="3" height="25" fill="#089981"/>
<rect x="1201" y="602" width="1" height="17" fill="#089981"/><rect x="1200" y="609" width="3" height="10" fill="#089981"/>
<rect x="1205" y="598" width="1" height="28" fill="#f23645"/><rect x="1204" y="609" width="3" height="10" fill="#f23645"/>
<rect x="1209" y="606" width="1" height="26" fill="#089981"/><rect x="1208" y="617" width="3" height="1" fill="#089981"/>
<rect x="1214" y="614" width="1" height="25" fill="#f23645"/><rect x="1213" y="617" width="3" height="13" fill="#f23645"/>
<rect x="1218" y="621" width="1" height="25" fill="#f23645"/><rect x="1217" y="630" width="3" height="12" fill="#f23645"/>
<rect x="1222" y="632" width="1" height="16" fill="#089981"/><rect x="1221" y="635" width="3" height="6" fill="#089981"/>
<rect x="1226" y="623" width="1" height="19" fill="#089981"/><rect x="1225" y="626" width="3" height="10" fill="#089981"/>
<rect x="1231" y="619" width="1" height="11" fill="#f23645"/><rect x="1230" y="626" width="3" height="1" fill="#f23645"/>
<rect x="1235" y="623" width="1" height="10" fill="#f23645"/><rect x="1234" y="626" width="3" height="4" fill="#f23645"/>
<rect x="1239" y="629" width="1" height="32" fill="#f23645"/><rect x="1238" y="629" width="3" height="13" fill="#f23645"/>
</g>
<polyline points="14.0,420.35 16.5,418.59 21.5,417.06 25.5,413.83 29.5,410.41 34.5,406.58 38.5,402.26 42.5,397.65 46.5,392.90 51.5,388.05 55.5,383.29 59.5,378.53 63.5,373.61 68.5,368.41 72.5,363.09 76.5,357.72 81.5,352.44 85.5,347.53 89.5,343.08 93.5,338.83 98.5,334.79 102.5,330.89 106.5,327.01 110.5,323.18 115.5,319.44 119.5,315.71 123.5,311.94 128.5,308.18 132.5,304.49 136.5,301.09 140.5,298.12 145.5,295.51 149.5,293.14 153.5,290.84 158.5,288.33 162.5,285.87 166.5,283.57 170.5,281.48 175.5,279.78 179.5,278.35 183.5,276.88 187.5,275.36 192.5,273.76 196.5,272.01 200.5,270.48 205.5,269.21 209.5,268.18 213.5,267.37 217.5,266.76 222.5,265.84 226.5,265.04 230.5,264.23 234.5,263.32 239.5,262.54 243.5,261.86 247.5,260.95 252.5,260.66 256.5,260.15 260.5,259.31 264.5,258.11 269.5,257.01 273.5,255.11 277.5,252.96 282.5,250.91 286.5,249.36 290.5,247.51 294.5,245.33 299.5,242.99 303.5,240.35 307.5,237.96 311.5,235.75 316.5,233.08 320.5,230.53 324.5,227.95 329.5,224.89 333.5,222.31 337.5,219.68 341.5,217.37 346.5,215.92 350.5,214.49 354.5,213.16 358.5,211.72 363.5,210.52 367.5,208.82 371.5,207.02 376.5,205.66 380.5,203.66 384.5,201.26 388.5,198.98 393.5,196.49 397.5,193.21 401.5,189.85 405.5,187.05 410.5,183.77 414.5,181.73 418.5,179.76 423.5,177.81 427.5,175.88 431.5,174.41 435.5,173.34 440.5,171.71 444.5,171.04 448.5,169.64 453.5,168.25 457.5,167.27 461.5,167.11 465.5,166.41 470.5,166.00 474.5,165.76 478.5,167.21 482.5,168.84 487.5,170.59 491.5,172.44 495.5,174.06 500.5,175.19 504.5,176.74 508.5,178.37 512.5,179.84 517.5,181.10 521.5,182.09 525.5,183.21 529.5,184.36 534.5,184.98 538.5,185.41 542.5,185.74 547.5,186.26 551.5,187.03 555.5,187.26 559.5,187.55 564.5,187.69 568.5,187.71 572.5,187.24 576.5,186.74 581.5,187.06 585.5,187.67 589.5,187.81 594.5,188.97 598.5,190.45 602.5,191.78 606.5,192.58 611.5,193.52 615.5,194.41 619.5,194.70 624.5,195.23 628.5,194.44 632.5,193.46 636.5,192.28 641.5,190.90 645.5,189.93 649.5,187.92 653.5,186.53 658.5,186.48 662.5,187.70 666.5,187.75 671.5,187.41 675.5,186.84 679.5,187.06 683.5,187.63 688.5,188.80 692.5,189.03 696.5,189.08 700.5,188.63 705.5,188.83 709.5,189.56 713.5,189.85 718.5,189.76 722.5,189.57 726.5,188.74 730.5,188.19 735.5,188.05 739.5,188.34 743.5,189.41 748.5,190.53 752.5,191.65 756.5,192.65 760.5,194.28 765.5,196.93 769.5,199.36 773.5,202.22 777.5,204.81 782.5,207.32 786.5,209.39 790.5,211.11 795.5,212.93 799.5,214.88 803.5,217.46 807.5,220.16 812.5,222.81 816.5,225.71 820.5,229.48 824.5,233.52 829.5,237.77 833.5,243.83 837.5,250.57 842.5,257.71 846.5,264.44 850.5,271.13 854.5,278.23 859.5,284.04 863.5,290.11 867.5,295.93 871.5,300.07 876.5,303.91 880.5,309.37 884.5,313.90 889.5,317.60 893.5,321.14 897.5,324.72 901.5,327.96 906.5,331.14 910.5,334.54 914.5,337.92 919.5,340.99 923.5,343.83 927.5,347.61 931.5,351.55 936.5,356.01 940.5,361.34 944.5,366.31 948.5,371.34 953.5,375.99 957.5,379.80 961.5,383.82 966.5,387.89 970.5,392.05 974.5,395.68 978.5,398.29 983.5,401.47 987.5,404.09 991.5,407.03 995.5,409.74 1000.5,413.09 1004.5,416.42 1008.5,419.35 1013.5,421.76 1017.5,423.59 1021.5,424.35 1025.5,425.14 1030.5,425.21 1034.5,424.93 1038.5,425.27 1043.5,425.36 1047.5,424.60 1051.5,423.57 1055.5,422.36 1060.5,421.52 1064.5,420.15 1068.5,418.33 1072.5,417.36 1077.5,416.55 1081.5,415.74 1085.5,415.23 1090.5,414.81 1094.5,414.39 1098.5,414.75 1102.5,415.49 1107.5,415.94 1111.5,415.96 1115.5,416.47 1119.5,416.85 1124.5,417.14 1128.5,417.77 1132.5,419.17 1137.5,420.75 1141.5,422.93 1145.5,425.46 1149.5,427.23 1154.5,429.25 1158.5,432.05 1162.5,436.46 1166.5,439.26 1171.5,442.84 1175.5,446.26 1179.5,449.78 1184.5,453.52 1188.5,457.37 1192.5,461.42 1196.5,464.87 1201.5,468.19 1205.5,471.80 1209.5,475.38 1214.5,479.08 1218.5,483.26 1222.5,487.13 1226.5,491.07 1231.5,495.23 1235.5,499.59 1239.5,504.36" fill="none" stroke="#2962ff" stroke-width="1.15" stroke-linejoin="round"/>
<line x1="13" y1="641.5" x2="1382" y2="641.5" stroke="#f23645" stroke-width="1" stroke-dasharray="1 2" shape-rendering="crispEdges"/>
<rect x="0" y="36" width="12" height="780" fill="#fff"/>
<rect x="12" y="36" width="2" height="780" fill="#f2f2f2"/>
<rect x="13" y="284" width="1" height="13" fill="#f5a3ab"/>
<circle cx="1239.6" cy="765.4" r="14.3" fill="#fff" fill-opacity="0.75"/>
<circle cx="1239.6" cy="765.4" r="12.4" fill="#fff" stroke="#9c27b0" stroke-width="2"/>
<polygon points="1243.95,759.10 1234.54,765.80 1239.90,766.03 1235.40,771.85 1244.60,765.13 1239.47,764.90" fill="#9c27b0" stroke="#9c27b0" stroke-width="0.7" stroke-linejoin="round"/>
<text x="1393.5" y="100.1" font-size="15.8" font-weight="normal" fill="#171717" text-anchor="start" textLength="74.6" lengthAdjust="spacingAndGlyphs">124,000.00</text>
<text x="1393.5" y="137.1" font-size="15.8" font-weight="normal" fill="#171717" text-anchor="start" textLength="74.6" lengthAdjust="spacingAndGlyphs">120,000.00</text>
<text x="1393.5" y="175.1" font-size="15.8" font-weight="normal" fill="#171717" text-anchor="start" textLength="74.6" lengthAdjust="spacingAndGlyphs">116,000.00</text>
<text x="1393.5" y="213.1" font-size="15.8" font-weight="normal" fill="#171717" text-anchor="start" textLength="74.6" lengthAdjust="spacingAndGlyphs">112,000.00</text>
<text x="1393.5" y="251.1" font-size="15.8" font-weight="normal" fill="#171717" text-anchor="start" textLength="74.6" lengthAdjust="spacingAndGlyphs">108,000.00</text>
<text x="1393.5" y="289.1" font-size="15.8" font-weight="normal" fill="#171717" text-anchor="start" textLength="74.6" lengthAdjust="spacingAndGlyphs">104,000.00</text>
<text x="1393.5" y="327.1" font-size="15.8" font-weight="normal" fill="#171717" text-anchor="start" textLength="74.6" lengthAdjust="spacingAndGlyphs">100,000.00</text>
<text x="1393.0" y="365.1" font-size="15.8" font-weight="normal" fill="#171717" text-anchor="start" textLength="67.1" lengthAdjust="spacingAndGlyphs">96,000.00</text>
<text x="1393.0" y="403.1" font-size="15.8" font-weight="normal" fill="#171717" text-anchor="start" textLength="67.1" lengthAdjust="spacingAndGlyphs">92,000.00</text>
<text x="1393.0" y="440.1" font-size="15.8" font-weight="normal" fill="#171717" text-anchor="start" textLength="67.1" lengthAdjust="spacingAndGlyphs">88,000.00</text>
<text x="1393.0" y="478.1" font-size="15.8" font-weight="normal" fill="#171717" text-anchor="start" textLength="67.1" lengthAdjust="spacingAndGlyphs">84,000.00</text>
<text x="1393.0" y="516.1" font-size="15.8" font-weight="normal" fill="#171717" text-anchor="start" textLength="67.1" lengthAdjust="spacingAndGlyphs">80,000.00</text>
<text x="1393.0" y="554.1" font-size="15.8" font-weight="normal" fill="#171717" text-anchor="start" textLength="67.1" lengthAdjust="spacingAndGlyphs">76,000.00</text>
<text x="1393.0" y="592.1" font-size="15.8" font-weight="normal" fill="#171717" text-anchor="start" textLength="67.1" lengthAdjust="spacingAndGlyphs">72,000.00</text>
<text x="1393.0" y="630.1" font-size="15.8" font-weight="normal" fill="#171717" text-anchor="start" textLength="67.1" lengthAdjust="spacingAndGlyphs">68,000.00</text>
<text x="1393.0" y="668.1" font-size="15.8" font-weight="normal" fill="#171717" text-anchor="start" textLength="67.1" lengthAdjust="spacingAndGlyphs">64,000.00</text>
<text x="1393.0" y="706.1" font-size="15.8" font-weight="normal" fill="#171717" text-anchor="start" textLength="67.1" lengthAdjust="spacingAndGlyphs">60,000.00</text>
<text x="1393.0" y="743.1" font-size="15.8" font-weight="normal" fill="#171717" text-anchor="start" textLength="67.1" lengthAdjust="spacingAndGlyphs">56,000.00</text>
<text x="1393.0" y="781.1" font-size="15.8" font-weight="normal" fill="#171717" text-anchor="start" textLength="67.1" lengthAdjust="spacingAndGlyphs">52,000.00</text>
<path d="M1383,272h90.1a2.5,2.5 0 0 1 2.5,2.5v15.8a2.5,2.5 0 0 1 -2.5,2.5h-90.1z" fill="#2962ff"/>
<text x="1394.5" y="287.1" font-size="15.8" font-weight="bold" fill="#fff" text-anchor="start" textLength="74.4" lengthAdjust="spacingAndGlyphs">103,528.23</text>
<path d="M1383,294h90.1a2.5,2.5 0 0 1 2.5,2.5v16.0a2.5,2.5 0 0 1 -2.5,2.5h-90.1z" fill="#2962ff"/>
<text x="1394.5" y="309.1" font-size="15.8" font-weight="bold" fill="#fff" text-anchor="start" textLength="74.4" lengthAdjust="spacingAndGlyphs">102,000.00</text>
<path d="M1383,343h81.0a2.5,2.5 0 0 1 2.5,2.5v16.0a2.5,2.5 0 0 1 -2.5,2.5h-81.0z" fill="#2962ff"/>
<text x="1393.5" y="358.1" font-size="15.8" font-weight="bold" fill="#fff" text-anchor="start" textLength="66.3" lengthAdjust="spacingAndGlyphs">96,043.00</text>
<path d="M1383,364h81.0a2.5,2.5 0 0 1 2.5,2.5v16.0a2.5,2.5 0 0 1 -2.5,2.5h-81.0z" fill="#2962ff"/>
<text x="1393.5" y="379.1" font-size="15.8" font-weight="bold" fill="#fff" text-anchor="start" textLength="66.3" lengthAdjust="spacingAndGlyphs">94,588.99</text>
<path d="M1383,475h81.0a2.5,2.5 0 0 1 2.5,2.5v16.0a2.5,2.5 0 0 1 -2.5,2.5h-81.0z" fill="#2962ff"/>
<text x="1393.5" y="490.1" font-size="15.8" font-weight="bold" fill="#fff" text-anchor="start" textLength="66.3" lengthAdjust="spacingAndGlyphs">80,869.37</text>
<path d="M1383,496h81.0a2.5,2.5 0 0 1 2.5,2.5v16.0a2.5,2.5 0 0 1 -2.5,2.5h-81.0z" fill="#2962ff"/>
<text x="1393.5" y="511.1" font-size="15.8" font-weight="bold" fill="#fff" text-anchor="start" textLength="66.3" lengthAdjust="spacingAndGlyphs">80,629.53</text>
<path d="M1383,731h81.0a2.5,2.5 0 0 1 2.5,2.5v16.0a2.5,2.5 0 0 1 -2.5,2.5h-81.0z" fill="#2962ff"/>
<text x="1393.5" y="746.1" font-size="15.8" font-weight="bold" fill="#fff" text-anchor="start" textLength="66.3" lengthAdjust="spacingAndGlyphs">55,857.81</text>
<path d="M1383,752h81.0a2.5,2.5 0 0 1 2.5,2.5v16.0a2.5,2.5 0 0 1 -2.5,2.5h-81.0z" fill="#2962ff"/>
<text x="1393.5" y="767.1" font-size="15.8" font-weight="bold" fill="#fff" text-anchor="start" textLength="66.3" lengthAdjust="spacingAndGlyphs">54,869.95</text>
<path d="M1383,631h81.0a2.5,2.5 0 0 1 2.5,2.5v34.0a2.5,2.5 0 0 1 -2.5,2.5h-81.0z" fill="#f23645"/>
<text x="1393.3" y="646.0" font-size="15.8" font-weight="bold" fill="#fff" text-anchor="start" textLength="66.3" lengthAdjust="spacingAndGlyphs">66,384.11</text>
<text x="1394.1" y="664.0" font-size="15.8" font-weight="normal" fill="#fff" text-anchor="start" textLength="59.1" lengthAdjust="spacingAndGlyphs" fill-opacity="0.82">14:07:00</text>
<rect x="1387.5" y="40" width="88" height="32" rx="4.5" fill="#fff" stroke="#ececec" stroke-width="1"/>
<text x="1398.0" y="60.8" font-size="15.8" font-weight="normal" fill="#171717" text-anchor="start" textLength="35.7" lengthAdjust="spacingAndGlyphs">USDT</text>
<text x="85.75" y="805.2" font-size="15.8" font-weight="normal" fill="#171717" text-anchor="start" textLength="24.3" lengthAdjust="spacingAndGlyphs">Jun</text>
<text x="215.75" y="805.2" font-size="15.8" font-weight="normal" fill="#171717" text-anchor="start" textLength="20.3" lengthAdjust="spacingAndGlyphs">Jul</text>
<text x="344.65" y="805.2" font-size="15.8" font-weight="normal" fill="#171717" text-anchor="start" textLength="26.5" lengthAdjust="spacingAndGlyphs">Aug</text>
<text x="478.55" y="805.2" font-size="15.8" font-weight="normal" fill="#171717" text-anchor="start" textLength="24.7" lengthAdjust="spacingAndGlyphs">Sep</text>
<text x="606.75" y="805.2" font-size="15.8" font-weight="normal" fill="#171717" text-anchor="start" textLength="24.3" lengthAdjust="spacingAndGlyphs">Oct</text>
<text x="738.7" y="805.2" font-size="15.8" font-weight="normal" fill="#171717" text-anchor="start" textLength="26.4" lengthAdjust="spacingAndGlyphs">Nov</text>
<text x="867.35" y="805.2" font-size="15.8" font-weight="normal" fill="#171717" text-anchor="start" textLength="25.1" lengthAdjust="spacingAndGlyphs">Dec</text>
<text x="1132.1" y="805.2" font-size="15.8" font-weight="normal" fill="#171717" text-anchor="start" textLength="25.6" lengthAdjust="spacingAndGlyphs">Feb</text>
<text x="1251.6" y="805.2" font-size="15.8" font-weight="normal" fill="#171717" text-anchor="start" textLength="26.6" lengthAdjust="spacingAndGlyphs">Mar</text>
<text x="995.3" y="805.2" font-size="15.8" font-weight="bold" fill="#171717" text-anchor="start" textLength="35.1" lengthAdjust="spacingAndGlyphs">2026</text>
<text x="13.0" y="24.8" font-size="15.8" font-weight="normal" fill="#171717" text-anchor="start" textLength="187.4" lengthAdjust="spacingAndGlyphs">VincenzoPenna_Investirebiz</text>
<text x="204.8" y="24.8" font-size="15.8" font-weight="normal" fill="#171717" text-anchor="start" textLength="54.9" lengthAdjust="spacingAndGlyphs">created</text>
<text x="263.7" y="24.8" font-size="15.8" font-weight="normal" fill="#171717" text-anchor="start" textLength="25.5" lengthAdjust="spacingAndGlyphs">with</text>
<text x="293.9" y="24.8" font-size="15.8" font-weight="normal" fill="#171717" text-anchor="start" textLength="120.8" lengthAdjust="spacingAndGlyphs">TradingView.com,</text>
<text x="421.0" y="24.8" font-size="15.8" font-weight="normal" fill="#171717" text-anchor="start" textLength="24.2" lengthAdjust="spacingAndGlyphs">Feb</text>
<text x="450.1" y="24.8" font-size="15.8" font-weight="normal" fill="#171717" text-anchor="start" textLength="19.8" lengthAdjust="spacingAndGlyphs">23,</text>
<text x="475.1" y="24.8" font-size="15.8" font-weight="normal" fill="#171717" text-anchor="start" textLength="32.0" lengthAdjust="spacingAndGlyphs">2026</text>
<text x="513.1" y="24.8" font-size="15.8" font-weight="normal" fill="#171717" text-anchor="start" textLength="36.0" lengthAdjust="spacingAndGlyphs">10:53</text>
<text x="554.3" y="24.8" font-size="15.8" font-weight="normal" fill="#171717" text-anchor="start" textLength="42.3" lengthAdjust="spacingAndGlyphs">UTC+1</text>
<text x="22.8" y="60" font-size="15.8" font-weight="normal" fill="#171717" text-anchor="start" textLength="46.2" lengthAdjust="spacingAndGlyphs">Bitcoin</text>
<text x="75.6" y="60" font-size="15.8" font-weight="normal" fill="#171717" text-anchor="start">/</text>
<text x="86.7" y="60" font-size="15.8" font-weight="normal" fill="#171717" text-anchor="start" textLength="61.2" lengthAdjust="spacingAndGlyphs">TetherUS</text>
<text x="162.5" y="60" font-size="15.8" font-weight="normal" fill="#171717" text-anchor="start" textLength="16.6" lengthAdjust="spacingAndGlyphs">1D</text>
<text x="193.6" y="60" font-size="15.8" font-weight="normal" fill="#171717" text-anchor="start" textLength="51.9" lengthAdjust="spacingAndGlyphs">Binance</text>
<circle cx="153.9" cy="55.3" r="1" fill="#131722"/><circle cx="186" cy="55.3" r="1" fill="#131722"/>
<text x="256.25" y="60" font-size="15.5" font-weight="normal" fill="#171717" text-anchor="start" textLength="10.05" lengthAdjust="spacingAndGlyphs">O</text>
<text x="266.7" y="60" font-size="15.8" font-weight="normal" fill="#f23645" text-anchor="start" textLength="66.7" lengthAdjust="spacingAndGlyphs">67,643.39</text>
<text x="342.8" y="60" font-size="15.5" font-weight="normal" fill="#171717" text-anchor="start" textLength="9.0" lengthAdjust="spacingAndGlyphs">H</text>
<text x="352.85" y="60" font-size="15.8" font-weight="normal" fill="#f23645" text-anchor="start" textLength="65.7" lengthAdjust="spacingAndGlyphs">67,684.86</text>
<text x="428.3" y="60" font-size="15.5" font-weight="normal" fill="#171717" text-anchor="start" textLength="7.0" lengthAdjust="spacingAndGlyphs">L</text>
<text x="435.6" y="60" font-size="15.8" font-weight="normal" fill="#f23645" text-anchor="start" textLength="65.3" lengthAdjust="spacingAndGlyphs">64,290.71</text>
<text x="511.1" y="60" font-size="15.5" font-weight="normal" fill="#171717" text-anchor="start" textLength="9.0" lengthAdjust="spacingAndGlyphs">C</text>
<text x="520.7" y="60" font-size="15.8" font-weight="normal" fill="#f23645" text-anchor="start" textLength="64.9" lengthAdjust="spacingAndGlyphs">66,384.11</text>
<text x="596.6" y="60" font-size="15.8" font-weight="normal" fill="#f23645" text-anchor="start" textLength="66.0" lengthAdjust="spacingAndGlyphs">−1,259.29</text>
<text x="668.1" y="60" font-size="15.8" font-weight="normal" fill="#f23645" text-anchor="start" textLength="56.2" lengthAdjust="spacingAndGlyphs">(−1.86%)</text>
<g fill="#0f0f0f"><path d="M15.4,845.4H30.7V863.8H23.1V852.7H15.4Z"/><circle cx="37.0" cy="849.15" r="3.9"/><polygon points="44.3,845.4 52.9,845.4 45.9,863.8 37.1,863.8"/></g>
<clipPath id="wclip"><rect x="190" y="850.4" width="30" height="13.4"/></clipPath>
<g fill="none" stroke="#0f0f0f" stroke-width="3.9">
<path d="M62.1,847.05H75.9M69,845.1V863.8"/>
<path d="M78.05,850.6V863.8"/><path d="M78.05,858.2Q78.05,852.6 83.9,852.6" stroke-width="3.5"/>
<circle cx="91.75" cy="857.5" r="5.2" stroke-width="3.8"/><path d="M97,850.6V863.8"/>
<circle cx="108.2" cy="857.5" r="5.2" stroke-width="3.8"/><path d="M112.95,845.1V863.8"/>
<path d="M119.55,850.6V863.8"/>
<path d="M125.7,850.6V863.8M125.7,856.4A4.35,4.35 0 0 1 134.4,856.4V863.8"/>
<circle cx="145.8" cy="857.0" r="5.1" stroke-width="3.8"/><path d="M150.8,850.4V864.2Q150.8,868 146.2,868Q142.6,868 140.6,865.6" stroke-width="3.7"/>
<path d="M174.9,850.6V863.8"/>
<path d="M191.1,857.1A5.15,5.15 0 1 0 189.9,860.6" stroke-width="3.8"/><path d="M182,857.4H192.9" stroke-width="2.7"/>
<path d="M194.9,849L200.35,863.8L204.0,853.2L207.75,863.8L212.6,849" stroke-width="3.7" stroke-linejoin="miter" stroke-miterlimit="10" clip-path="url(#wclip)"/>
</g>
<g fill="#0f0f0f"><circle cx="119.5" cy="846.9" r="2.45"/><circle cx="174.9" cy="846.8" r="2.45"/>
<polygon points="152.5,845 157.0,845 161.9,858.3 166.7,845 171.2,845 163.7,863.8 160.0,863.8"/></g>
</svg>
</body></html>
